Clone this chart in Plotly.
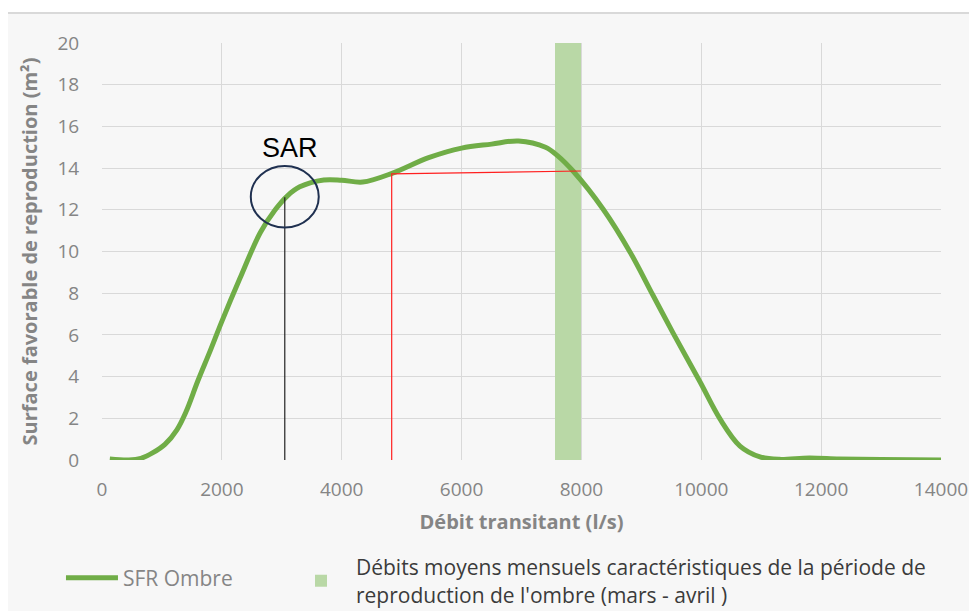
import plotly.graph_objects as go

# SFR curve (débit l/s -> surface m²)
sfr_debit = [130, 450, 650, 850, 1050, 1250, 1400, 1600, 1800, 2000, 2300, 2640, 2890, 3090,
             3300, 3700, 4000, 4350, 4850, 5450, 6000, 6500, 6950, 7400, 7600, 7860, 8360,
             8810, 9194, 9528, 9978, 10312, 10646, 10980, 11300, 11800, 12300, 13000, 14000]
sfr_surface = [0.05, 0.0, 0.08, 0.35, 0.75, 1.45, 2.3, 3.8, 5.2, 6.65, 8.7, 10.9, 12.0, 12.66,
               13.1, 13.43, 13.42, 13.33, 13.76, 14.5, 14.96, 15.15, 15.3, 15.0, 14.6, 13.86, 12.04,
               9.98, 7.9, 6.1, 3.75, 1.97, 0.67, 0.15, 0.03, 0.1, 0.05, 0.02, 0.0]

# band of characteristic monthly flows (mars - avril)
band_debit_min = 7560
band_debit_max = 7990
band_top = 20

# SAR marker and red reference lines
sar_debit = 3050
sar_surface = 12.6
red_debit = [4834, 4834, 7990]
red_surface = [0, 13.72, 13.86]

x_ticks = [0, 2000, 4000, 6000, 8000, 10000, 12000, 14000]
x_ticktext = ['0', '2000', '4000', '6000', '8000', '10000', '12000', '14000']

grey = '#858585'
font_family = 'Open Sans, sans-serif'

fig = go.Figure()

fig.add_trace(go.Scatter(
    x=sfr_debit, y=sfr_surface,
    mode='lines',
    line=dict(color='#70ad47', width=5, shape='spline', smoothing=1.0),
    name='SFR Ombre',
    legend='legend',
))

fig.add_trace(go.Bar(
    x=[(band_debit_min + band_debit_max) / 2],
    y=[band_top],
    width=band_debit_max - band_debit_min,
    marker_color='#b9d8a6',
    marker_line_width=0,
    name="<span style='color:#3b3b3b'>Débits moyens mensuels caractéristiques de la période de<br>reproduction de l'ombre (mars - avril )</span>",
    legend='legend2',
))

fig.add_trace(go.Scatter(
    x=[sar_debit, sar_debit], y=[0, sar_surface],
    mode='lines', line=dict(color='#222222', width=1.2),
    showlegend=False,
))

fig.add_trace(go.Scatter(
    x=red_debit, y=red_surface,
    mode='lines', line=dict(color='#ff2020', width=1.2),
    showlegend=False,
))

# background frame
fig.add_shape(type='rect', xref='paper', yref='paper',
              x0=-0.116, x1=1.2, y0=-0.6, y1=1.072,
              fillcolor='#f7f7f7', line=dict(color='#d9d9d9', width=2), layer='below')

# SAR ellipse
fig.add_shape(type='circle', xref='x', yref='y',
              x0=sar_debit - 567, x1=sar_debit + 567,
              y0=sar_surface - 1.45, y1=sar_surface + 1.5,
              line=dict(color='#1f3050', width=2))

fig.add_annotation(x=sar_debit + 90, y=14.95, text='SAR', showarrow=False,
                   font=dict(family='Liberation Sans, Arial', size=27, color='black'))

# the page adds an 8px body margin, so the figure is 8px smaller than the window
fig.update_layout(
    width=969, height=603,
    margin=dict(l=94, r=36, t=35, b=151, autoexpand=False),
    paper_bgcolor='white',
    plot_bgcolor='#fdfdfd',
    font=dict(family=font_family, color=grey, size=19),
    bargap=0,
    legend=dict(orientation='h', x=-0.0489, y=-0.283, yanchor='middle', xanchor='left',
                font=dict(size=21, color=grey), itemwidth=52, bgcolor='rgba(0,0,0,0)'),
    legend2=dict(orientation='h', x=0.2193, y=-0.290, yanchor='middle', xanchor='left',
                 font=dict(size=21, color='#3b3b3b'), itemwidth=60, bgcolor='rgba(0,0,0,0)'),
    xaxis=dict(
        range=[0, 14000], tickvals=x_ticks, ticktext=x_ticktext,
        showgrid=True, gridcolor='#d9d9d9', gridwidth=1, zeroline=False,
        ticks='outside', ticklen=12, tickcolor='rgba(0,0,0,0)',
        title=dict(text='<b>Débit transitant (l/s)</b>', font=dict(size=20, color=grey), standoff=14),
    ),
    yaxis=dict(
        range=[0, 20], dtick=2,
        showgrid=True, gridcolor='#d9d9d9', gridwidth=1, zeroline=False,
        ticks='outside', ticklen=18, tickcolor='rgba(0,0,0,0)',
        title=dict(text='<b>Surface favorable de reproduction (m²)</b>', font=dict(size=20, color=grey), standoff=14),
    ),
)

fig.write_html("out.html")
